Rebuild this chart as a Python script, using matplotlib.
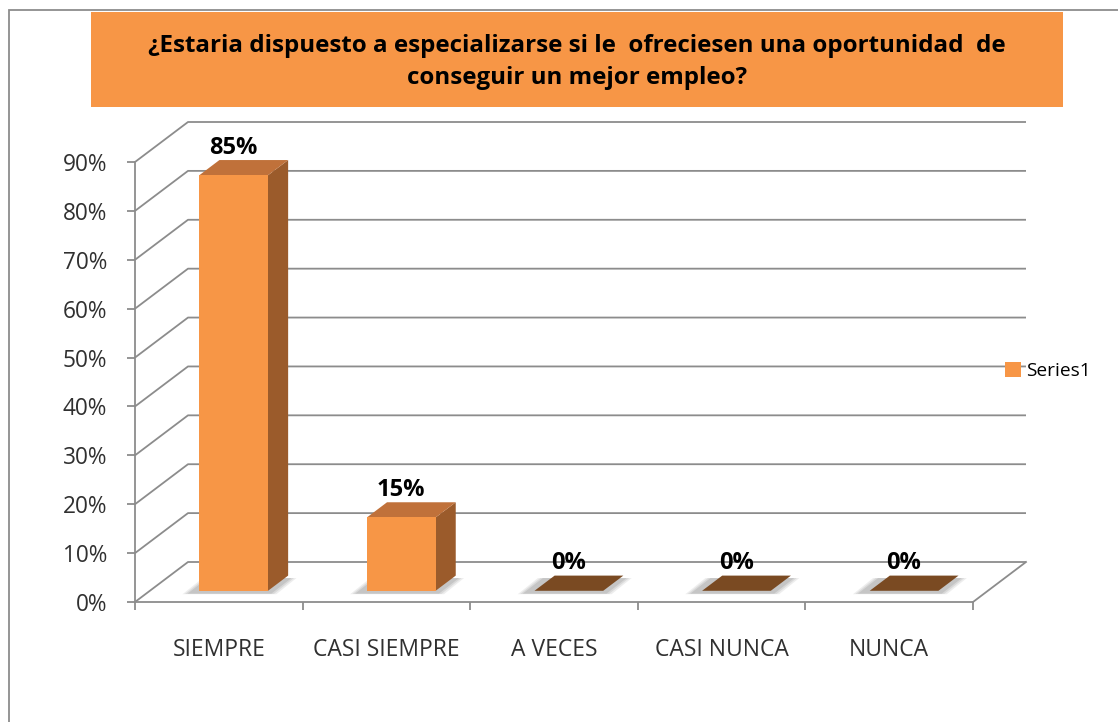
import matplotlib
matplotlib.use("Agg")
import matplotlib.pyplot as plt
from matplotlib.patches import Polygon, Rectangle, Patch

# ---- data ----
categories = ["SIEMPRE", "CASI SIEMPRE", "A VECES", "CASI NUNCA", "NUNCA"]
values = [85, 15, 0, 0, 0]
value_labels = ["85%", "15%", "0%", "0%", "0%"]
yticks = [0, 10, 20, 30, 40, 50, 60, 70, 80, 90]
ytick_labels = ["0%", "10%", "20%", "30%", "40%", "50%", "60%", "70%", "80%", "90%"]
series_name = "Series1"
title = "¿Estaria dispuesto a especializarse si le  ofreciesen una oportunidad  de\nconseguir un mejor empleo?"

FONT = "Open Sans"
W, H = 1118, 722
fig = plt.figure(figsize=(W / 100, H / 100), dpi=100)

# outer frame
fig.patches.append(Rectangle((8.6 / W, -0.01), 1.02, 1 - 10 / H + 0.01, transform=fig.transFigure,
                             fill=False, edgecolor="#8C8C8C", linewidth=1.3, zorder=0))
# title box
fig.patches.append(Rectangle((91 / W, 1 - 107 / H), (1063 - 91) / W, (107 - 12) / H,
                             transform=fig.transFigure, facecolor="#F79646", edgecolor="none", zorder=1))
fig.text((91 + 1063) / 2 / W, 1 - 62 / H, title, ha="center", va="center", fontsize=17.4,
         fontweight="bold", family=FONT, color="black", linespacing=1.4, zorder=2)

ax = fig.add_axes([135 / W, (H - 602) / H, 838 / W, 440 / H])
ax.set_xlim(-0.5, len(categories) - 0.5)
ax.set_ylim(0, 90)
ax.patch.set_visible(False)

DX = 53 / 167.6   # depth offset in category units
DY = 40 / (440 / 90)  # depth offset in percent units
grid_c = "#8C8C8C"
xl0, xr0 = -0.5, len(categories) - 0.5

# walls / gridlines
for v in yticks:
    ax.plot([xl0, xl0 + DX, xr0 + DX], [v, v + DY, v + DY], color=grid_c, lw=1.3,
            clip_on=False, zorder=1, solid_capstyle="butt")
ax.plot([xr0, xr0 + DX], [0, DY], color=grid_c, lw=1.3, clip_on=False, zorder=1)

# spines / ticks
for s in ["top", "right"]:
    ax.spines[s].set_visible(False)
ax.spines["left"].set_color(grid_c)
ax.spines["bottom"].set_color(grid_c)
ax.spines["left"].set_linewidth(1.3)
ax.spines["bottom"].set_linewidth(1.3)
ax.set_yticks(yticks)
ax.set_yticklabels(ytick_labels)
ax.tick_params(axis="y", length=6, width=1.3, color=grid_c, pad=14, labelsize=16.3, labelcolor="#303030")
ax.set_xticks(range(len(categories)))
ax.set_xticklabels(categories)
ax.tick_params(axis="x", which="major", length=0, pad=26, labelsize=16.5, labelcolor="#303030")
ax.set_xticks([i - 0.5 for i in range(len(categories) + 1)], minor=True)
ax.tick_params(axis="x", which="minor", length=6, width=1.3, color=grid_c)
for lab in ax.get_xticklabels() + ax.get_yticklabels():
    lab.set_family(FONT)

# bars
bw = 0.41
d0, d1 = 0.28, 0.66
front_c = "#F79646"
side_c = "#9B5B2B"
top_c = "#C0713A"
zero_c = "#7A4A22"
for i, v in enumerate(values):
    xl = i - bw / 2
    xr = i + bw / 2
    fx0, fx1 = xl + d0 * DX, xr + d0 * DX
    bx0, bx1 = xl + d1 * DX, xr + d1 * DX
    fy0, by0 = d0 * DY, d1 * DY
    # soft shadow
    for k, a in enumerate([0.18, 0.25, 0.35]):
        e = 0.05 - k * 0.015
        ax.add_patch(Polygon([(fx0 - 0.05 - e, fy0 - 0.5 - 4 * e), (fx1 + e, fy0 - 0.5 - 4 * e),
                              (bx1 + e, by0 - 0.5), (bx0 - 0.05 - e, by0 - 0.5)], closed=True,
                             facecolor="#A0A0A0", alpha=a, edgecolor="none", zorder=2, clip_on=False))
    if v > 0:
        ax.add_patch(Polygon([(fx1, fy0), (bx1, by0), (bx1, v + by0), (fx1, v + fy0)], closed=True,
                             facecolor=side_c, edgecolor="none", zorder=3, clip_on=False))
        ax.add_patch(Polygon([(fx0, v + fy0), (fx1, v + fy0), (bx1, v + by0), (bx0, v + by0)], closed=True,
                             facecolor=top_c, edgecolor="none", zorder=3, clip_on=False))
        ax.add_patch(Polygon([(fx0, fy0), (fx1, fy0), (fx1, v + fy0), (fx0, v + fy0)], closed=True,
                             facecolor=front_c, edgecolor="none", zorder=4, clip_on=False))
    else:
        ax.add_patch(Polygon([(fx0, fy0), (fx1, fy0), (bx1, by0), (bx0, by0)], closed=True,
                             facecolor=zero_c, edgecolor="none", zorder=3, clip_on=False))
    ax.text((fx0 + fx1) / 2, v + by0 + 0.1, value_labels[i], ha="center", va="bottom",
            fontsize=17, fontweight="bold", family=FONT, color="black", zorder=5, clip_on=False)

# legend
fig.legend(handles=[Patch(facecolor=front_c, edgecolor="none", label=series_name)],
           loc="center left", bbox_to_anchor=(997 / W, 1 - 371 / H), frameon=False,
           handlelength=0.85, handleheight=0.85, handletextpad=0.25, borderaxespad=0,
           prop={"family": FONT, "size": 13.8})

fig.savefig("out.png", dpi=100)
